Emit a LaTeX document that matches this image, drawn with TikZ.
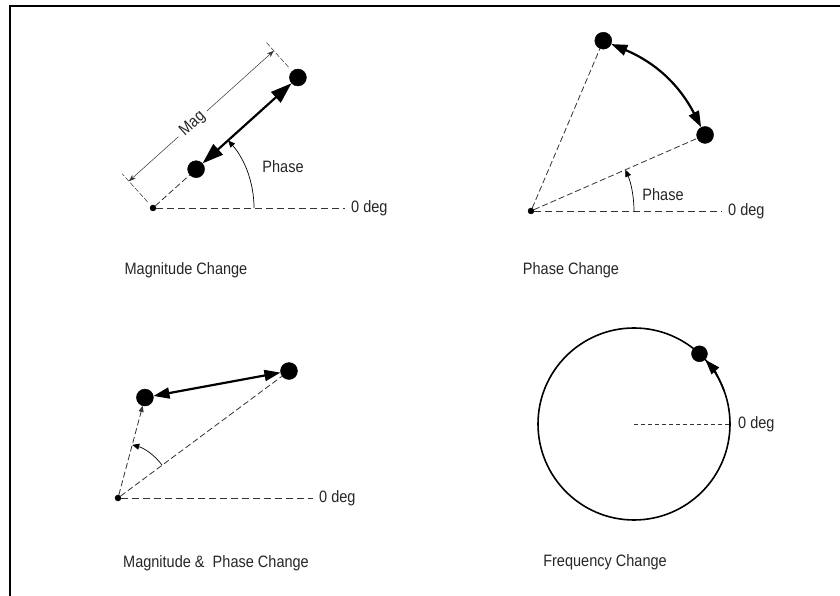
\documentclass[tikz,border=0pt]{standalone}
\usepackage{fontspec}
\setmainfont[FakeStretch=0.88]{Liberation Sans}
\usepackage{tikz}
\usetikzlibrary{arrows.meta}
\usetikzlibrary{positioning}
\usetikzlibrary{calc}

\begin{document}
\begin{tikzpicture}[x=1pt,y=1pt]
			\tikzstyle{every node}=[font=\fontsize{16.5}{19}\selectfont,text=black!85,inner sep=0pt]
			\tikzstyle{origin}=[draw,circle,fill=black,minimum size=6pt]
			\tikzstyle{phasor}=[draw,circle,fill=black,minimum size=17pt]
			\tikzstyle{refline}=[line width=0.8pt,black!80,dash pattern=on 7pt off 4pt]
			\tikzstyle{vecline}=[line width=0.8pt,black!80,dash pattern=on 6pt off 3pt]
			\tikzstyle{swing}=[line width=2.2pt,{Triangle[length=16pt,width=11pt]}-{Triangle[length=16pt,width=11pt]}]
			\tikzstyle{phasearc}=[line width=0.7pt,-{Triangle[length=7pt,width=6pt]}]
			\tikzstyle{dimline}=[line width=0.5pt,black!80,{Stealth[length=7pt,width=5pt]}-{Stealth[length=7pt,width=5pt]}]
			\tikzstyle{extline}=[line width=0.5pt,black!80,dash pattern=on 5pt off 2pt]

			\useasboundingbox (0,0) rectangle (840,596);
			\draw[line width=2pt] (10,0) -- (10,590) -- (840,590);

			\node (o1) [origin] at (153,388) {};
			\node (m1) [phasor] at ($(o1)+(42:58)$) {};
			\node (m2) [phasor] at ($(o1)+(42:195)$) {};
			\coordinate (z1) at (345,388);
			\node (d1) [right=6pt of z1] {0 deg};
			\node (ph1) at (283,429) {Phase};
			\draw[refline] (o1) -- (z1);
			\draw[vecline] (o1) -- (m1);
			\draw[swing,{Triangle[length=21pt,width=14pt]}-{Triangle[length=21pt,width=14pt]}] (m1) -- (m2);
			\draw[phasearc] ($(o1)+(101,0)$) arc (0:42:101);
			\coordinate (e1) at ($(o1)+(132:36)$);
			\coordinate (e2) at ($(m2)+(132:36)$);
			\draw[extline] ($(o1)+(132:8)$) -- ($(o1)+(132:46)$);
			\draw[extline] ($(m2)+(132:14)$) -- ($(m2)+(132:48)$);
			\draw[dimline] (e1) -- node[pos=0.44,sloped,fill=white,inner sep=5pt] {Mag} (e2);
			\node (t1) at (186,326) {Magnitude Change};

			\node (o2) [origin] at (531,385) {};
			\node (m3) [phasor] at ($(o2)+(67:185)$) {};
			\node (m4) [phasor] at ($(o2)+(23.6:190)$) {};
			\coordinate (z2) at (722,385);
			\node (d2) [right=6pt of z2] {0 deg};
			\node (ph2) at (663,401) {Phase};
			\draw[refline] (o2) -- (z2);
			\draw[vecline] (o2) -- (m3);
			\draw[vecline] (o2) -- (m4);
			\draw[swing] (m3) to[bend left=20] (m4);
			\draw[phasearc] ($(o2)+(103,0)$) arc (0:23.6:103);
			\node (t2) at (571,326) {Phase Change};

			\node (o3) [origin] at (118,98) {};
			\node (m5) [phasor] at ($(o3)+(75:104)$) {};
			\node (m6) [phasor] at ($(o3)+(36.6:213)$) {};
			\coordinate (z3) at (313,98);
			\node (d3) [right=6pt of z3] {0 deg};
			\draw[refline] (o3) -- (z3);
			\draw[vecline,-{Triangle[length=6pt,width=5pt]}] (o3) -- (m5);
			\draw[vecline] (o3) -- (m6);
			\draw[swing] (m5) -- (m6);
			\draw[phasearc] ($(o3)+(36.6:55)$) arc (36.6:75:55);
			\node (t3) at (216,33) {Magnitude \&\ \ Phase Change};

			\coordinate (c4) at (634,172);
			\draw[line width=1.6pt] (c4) circle (96);
			\node (m7) [phasor,minimum size=16pt] at ($(c4)+(47:96)$) {};
			\draw[line width=1.6pt,-{Triangle[length=15pt,width=10pt]}] ($(c4)+(20:96)$) arc (20:42:96);
			\coordinate (z4) at (730,172);
			\draw[line width=0.8pt,black!80,dash pattern=on 4pt off 3pt] (c4) -- (z4);
			\node (d4) [right=8pt of z4] {0 deg};
			\node (t4) at (605,34) {Frequency Change};


		\end{tikzpicture}
\end{document}
